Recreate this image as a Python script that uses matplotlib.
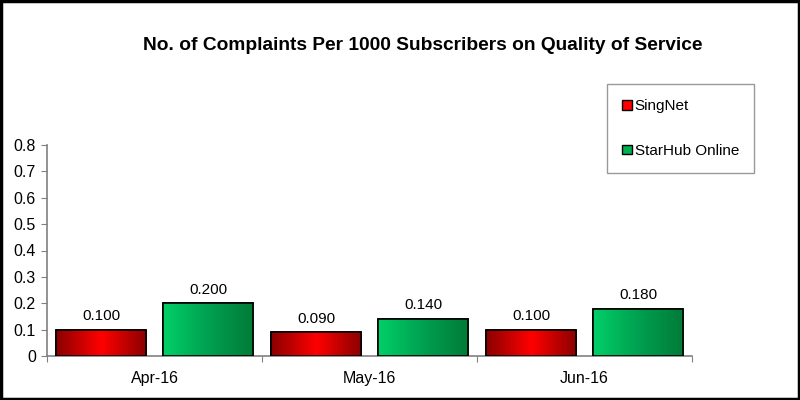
import matplotlib
matplotlib.use("Agg")
import matplotlib.pyplot as plt
import numpy as np
from matplotlib.colors import LinearSegmentedColormap
from matplotlib.patches import Rectangle

categories = ["Apr-16", "May-16", "Jun-16"]
singnet = [0.100, 0.090, 0.100]
starhub = [0.200, 0.140, 0.180]
series_names = ["SingNet", "StarHub Online"]
yticks = [0, 0.1, 0.2, 0.3, 0.4, 0.5, 0.6, 0.7, 0.8]
title = "No. of Complaints Per 1000 Subscribers on Quality of Service"

plt.rcParams['font.family'] = ['Liberation Sans', 'DejaVu Sans']

fig = plt.figure(figsize=(8, 4), dpi=100)
ax = fig.add_axes([0.05875, 0.11, 0.80625, 0.5275])

red_cmap = LinearSegmentedColormap.from_list("r", ["#8a0000", "#ff0000", "#8a0000"])
green_cmap = LinearSegmentedColormap.from_list("g", ["#00d068", "#00a050", "#007a38"])

x = np.arange(len(categories)) + 0.5
w = 0.419
gap = 0.079
grad = np.linspace(0, 1, 256).reshape(1, -1)

def grad_bars(xpos, vals, cmap, solid, label):
    bars = ax.bar(xpos, vals, width=w, color=solid, edgecolor='black', linewidth=1.2, label=label, zorder=3)
    for b in bars:
        x0, y0 = b.get_x(), b.get_y()
        im = ax.imshow(grad, cmap=cmap, aspect='auto', extent=[x0, x0 + b.get_width(), y0, y0 + b.get_height()], zorder=3.5, interpolation='bilinear')
        im.set_clip_path(b)
        edge = Rectangle((x0, y0), b.get_width(), b.get_height(), fill=False, edgecolor='black', linewidth=1.2, zorder=4)
        ax.add_patch(edge)
    for xi, v in zip(xpos, vals):
        ax.text(xi, v + 0.025, f"{v:.3f}", ha='center', va='bottom', fontsize=11, color='black')
    return bars

grad_bars(x - (w + gap) / 2, singnet, red_cmap, "#ff0000", series_names[0])
grad_bars(x + (w + gap) / 2, starhub, green_cmap, "#00b050", series_names[1])

ax.set_xlim(0, len(categories))
ax.set_ylim(0, 0.8)
ax.set_yticks(yticks)
ax.set_yticklabels(["0" if t == 0 else f"{t:.1f}" for t in yticks], fontsize=11.5)
ax.set_xticks(np.arange(len(categories) + 1))
ax.set_xticklabels([])
ax.set_xticks(x, minor=True)
ax.set_xticklabels(categories, minor=True, fontsize=11.5)
ax.tick_params(axis='x', which='minor', length=0, pad=11)
ax.tick_params(axis='x', which='major', length=4, direction='out', color='#808080')
ax.tick_params(axis='y', length=4, direction='out', color='#808080', pad=4)
for s in ['top', 'right']:
    ax.spines[s].set_visible(False)
for s in ['left', 'bottom']:
    ax.spines[s].set_color('#808080')
    ax.spines[s].set_linewidth(1.2)

fig.text(0.529, 0.885, title, ha='center', va='center', fontsize=13.8, fontweight='bold')

handles = [Rectangle((0, 0), 1, 1, facecolor="#ff0000", edgecolor='black', linewidth=1),
           Rectangle((0, 0), 1, 1, facecolor="#00b050", edgecolor='black', linewidth=1)]
leg = fig.legend(handles, series_names, loc='upper left', bbox_to_anchor=(0.759, 0.79),
                 frameon=True, fancybox=False, fontsize=11, handlelength=0.6, handleheight=0.6,
                 handletextpad=0.2, labelspacing=2.0, borderpad=1.0, borderaxespad=0)
leg.get_frame().set_edgecolor('#808080')
leg.get_frame().set_linewidth(1)

fig.patches.append(Rectangle((0.0015, 0.003), 0.997, 0.994, transform=fig.transFigure, fill=False, edgecolor='black', linewidth=2.5))

fig.savefig("out.png", dpi=100)
